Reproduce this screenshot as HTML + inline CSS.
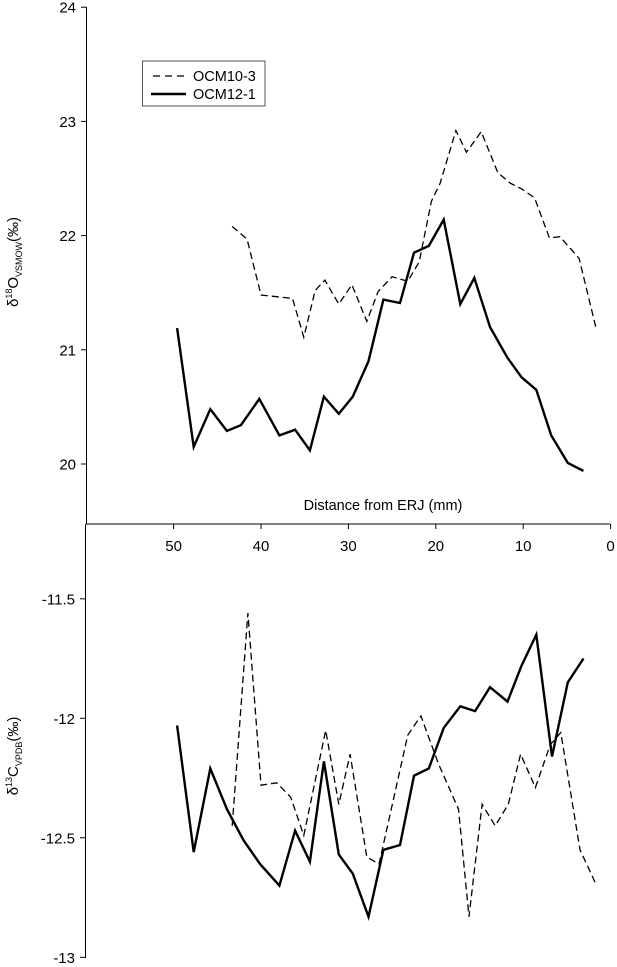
<!DOCTYPE html>
<html><head><meta charset="utf-8"><style>
html,body{margin:0;padding:0;background:#fff;}
svg{display:block;font-family:"Liberation Sans",sans-serif;}
</style></head><body>
<svg id="chart" width="617" height="967" viewBox="0 0 617 967" xmlns="http://www.w3.org/2000/svg">
<g id="axes"></g><g id="series"></g>
<g>
<rect x="142.5" y="61" width="122.5" height="45" fill="#fff" stroke="#555" stroke-width="1"/>
<line x1="153" y1="76" x2="186" y2="76" stroke="#000" stroke-width="1.3" stroke-dasharray="7,5"/>
<text x="193" y="81" font-size="14.5" fill="#000">OCM10-3</text>
<line x1="151" y1="94" x2="186" y2="94" stroke="#000" stroke-width="2.4"/>
<text x="193" y="99" font-size="14.5" fill="#000">OCM12-1</text>
</g>
</svg>
<script>
const xTicks=[50,40,30,20,10,0];
const topTicks=[24,23,22,21,20];
const botTicks=[-11.5,-12,-12.5,-13];
const oSolidD=[49.6,47.7,45.8,43.9,42.3,40.2,37.9,36.1,34.4,32.8,31.1,29.5,27.7,26.0,24.1,22.5,20.8,19.1,17.2,15.6,13.8,11.8,10.2,8.5,6.8,4.9,3.1];
const oSolidV=[21.19,20.15,20.48,20.29,20.34,20.57,20.25,20.30,20.12,20.59,20.44,20.59,20.90,21.44,21.41,21.85,21.91,22.14,21.40,21.63,21.20,20.93,20.76,20.65,20.25,20.01,19.94];
const oDashD=[43.3,41.6,40.0,36.4,35.1,33.8,32.7,31.1,29.6,27.9,26.6,25.0,23.2,21.9,20.5,19.5,17.7,16.5,14.8,12.9,11.5,10.2,8.7,7.0,5.8,3.6,1.6];
const oDashV=[22.08,21.97,21.48,21.45,21.11,21.52,21.61,21.40,21.57,21.25,21.51,21.64,21.60,21.77,22.30,22.46,22.92,22.73,22.91,22.55,22.46,22.41,22.33,21.98,21.99,21.80,21.17];
const cSolidD=[49.6,47.7,45.8,43.9,42.0,40.1,37.9,36.1,34.4,32.8,31.1,29.5,27.7,26.0,24.1,22.5,20.8,19.1,17.2,15.5,13.8,11.8,10.2,8.5,6.7,4.9,3.1];
const cSolidV=[-12.03,-12.56,-12.21,-12.38,-12.51,-12.61,-12.70,-12.47,-12.60,-12.18,-12.57,-12.65,-12.83,-12.55,-12.53,-12.24,-12.21,-12.04,-11.95,-11.97,-11.87,-11.93,-11.78,-11.65,-12.16,-11.85,-11.75];
const cDashD=[43.3,41.5,40.0,38.2,36.6,35.1,32.6,31.1,29.8,27.9,26.5,23.2,21.7,19.7,17.4,16.2,14.7,13.2,11.7,10.3,8.6,6.9,5.7,3.5,1.6];
const cDashV=[-12.45,-11.56,-12.28,-12.27,-12.33,-12.49,-12.05,-12.36,-12.15,-12.58,-12.61,-12.07,-11.99,-12.19,-12.38,-12.83,-12.36,-12.45,-12.36,-12.15,-12.29,-12.11,-12.06,-12.55,-12.70];

const NS='http://www.w3.org/2000/svg';
const xS=d=>610.6-8.74*d;
const yTop=v=>464-(v-20)*114.2;
const yBot=v=>718.3-(v+12)*239;
const axes=document.getElementById('axes'), series=document.getElementById('series');
function mk(tag,attrs,parent){const e=document.createElementNS(NS,tag);for(const k in attrs)e.setAttribute(k,attrs[k]);parent.appendChild(e);return e;}

let e;
e=mk('line',{x1:86.5,y1:7,x2:86.5,y2:524,stroke:'#000','stroke-width':1},axes);


e=mk('line',{x1:85.5,y1:524,x2:85.5,y2:958,stroke:'#000','stroke-width':1},axes);


e=mk('line',{x1:86,y1:524,x2:610,y2:524,stroke:'#000','stroke-width':1},axes);



topTicks.forEach(t=>{
  const y=yTop(t);
  e=mk('line',{x1:81,y1:y,x2:86.5,y2:y,stroke:'#000'},axes);
  
  
  e=mk('text',{x:76,y:y+5.5,'font-size':15,'text-anchor':'end'},axes);
  e.textContent=t;
  
  
});
botTicks.forEach(t=>{
  const y=yBot(t);
  e=mk('line',{x1:80,y1:y,x2:85.5,y2:y,stroke:'#000'},axes);
  
  
  e=mk('text',{x:75,y:y+5.5,'font-size':15,'text-anchor':'end'},axes);
  e.textContent=t;
  
  
});
xTicks.forEach(t=>{
  const x=xS(t);
  e=mk('line',{x1:x,y1:524,x2:x,y2:529,stroke:'#000'},axes);
  
  
  e=mk('text',{x:x,y:551,'font-size':15,'text-anchor':'middle'},axes);
  e.textContent=t;
  
  
});
e=mk('text',{x:383,y:510,'font-size':14.5,'text-anchor':'middle'},axes);
e.textContent='Distance from ERJ (mm)';



function ytitle(cy,main,sup,sub,name){
  const t=mk('text',{transform:`translate(18,${cy}) rotate(-90)`,'font-size':15,'text-anchor':'middle'},axes);
  t.innerHTML=`δ<tspan font-size="9" dy="-6">${sup}</tspan><tspan dy="6">${main}</tspan><tspan font-size="9" dy="4">${sub}</tspan><tspan dy="-4">(‰)</tspan>`;
  
  
}
ytitle(262,'O','18','VSMOW','top-y-axis-title');
ytitle(756,'C','13','VPDB','bottom-y-axis-title');

function line(ds,vs,ys,dash,w,name){
  const pts=ds.map((d,i)=>xS(d).toFixed(1)+','+ys(vs[i]).toFixed(1)).join(' ');
  const p=mk('polyline',{points:pts,fill:'none',stroke:'#000','stroke-width':w,'stroke-linejoin':'miter'},series);
  if(dash)p.setAttribute('stroke-dasharray',dash);
  
  
}
line(oDashD,oDashV,yTop,'7,4',1.3,'o18-ocm10-3-line');
line(oSolidD,oSolidV,yTop,null,2.4,'o18-ocm12-1-line');
line(cDashD,cDashV,yBot,'7,4',1.3,'c13-ocm10-3-line');
line(cSolidD,cSolidV,yBot,null,2.4,'c13-ocm12-1-line');
</script>
</body></html>
